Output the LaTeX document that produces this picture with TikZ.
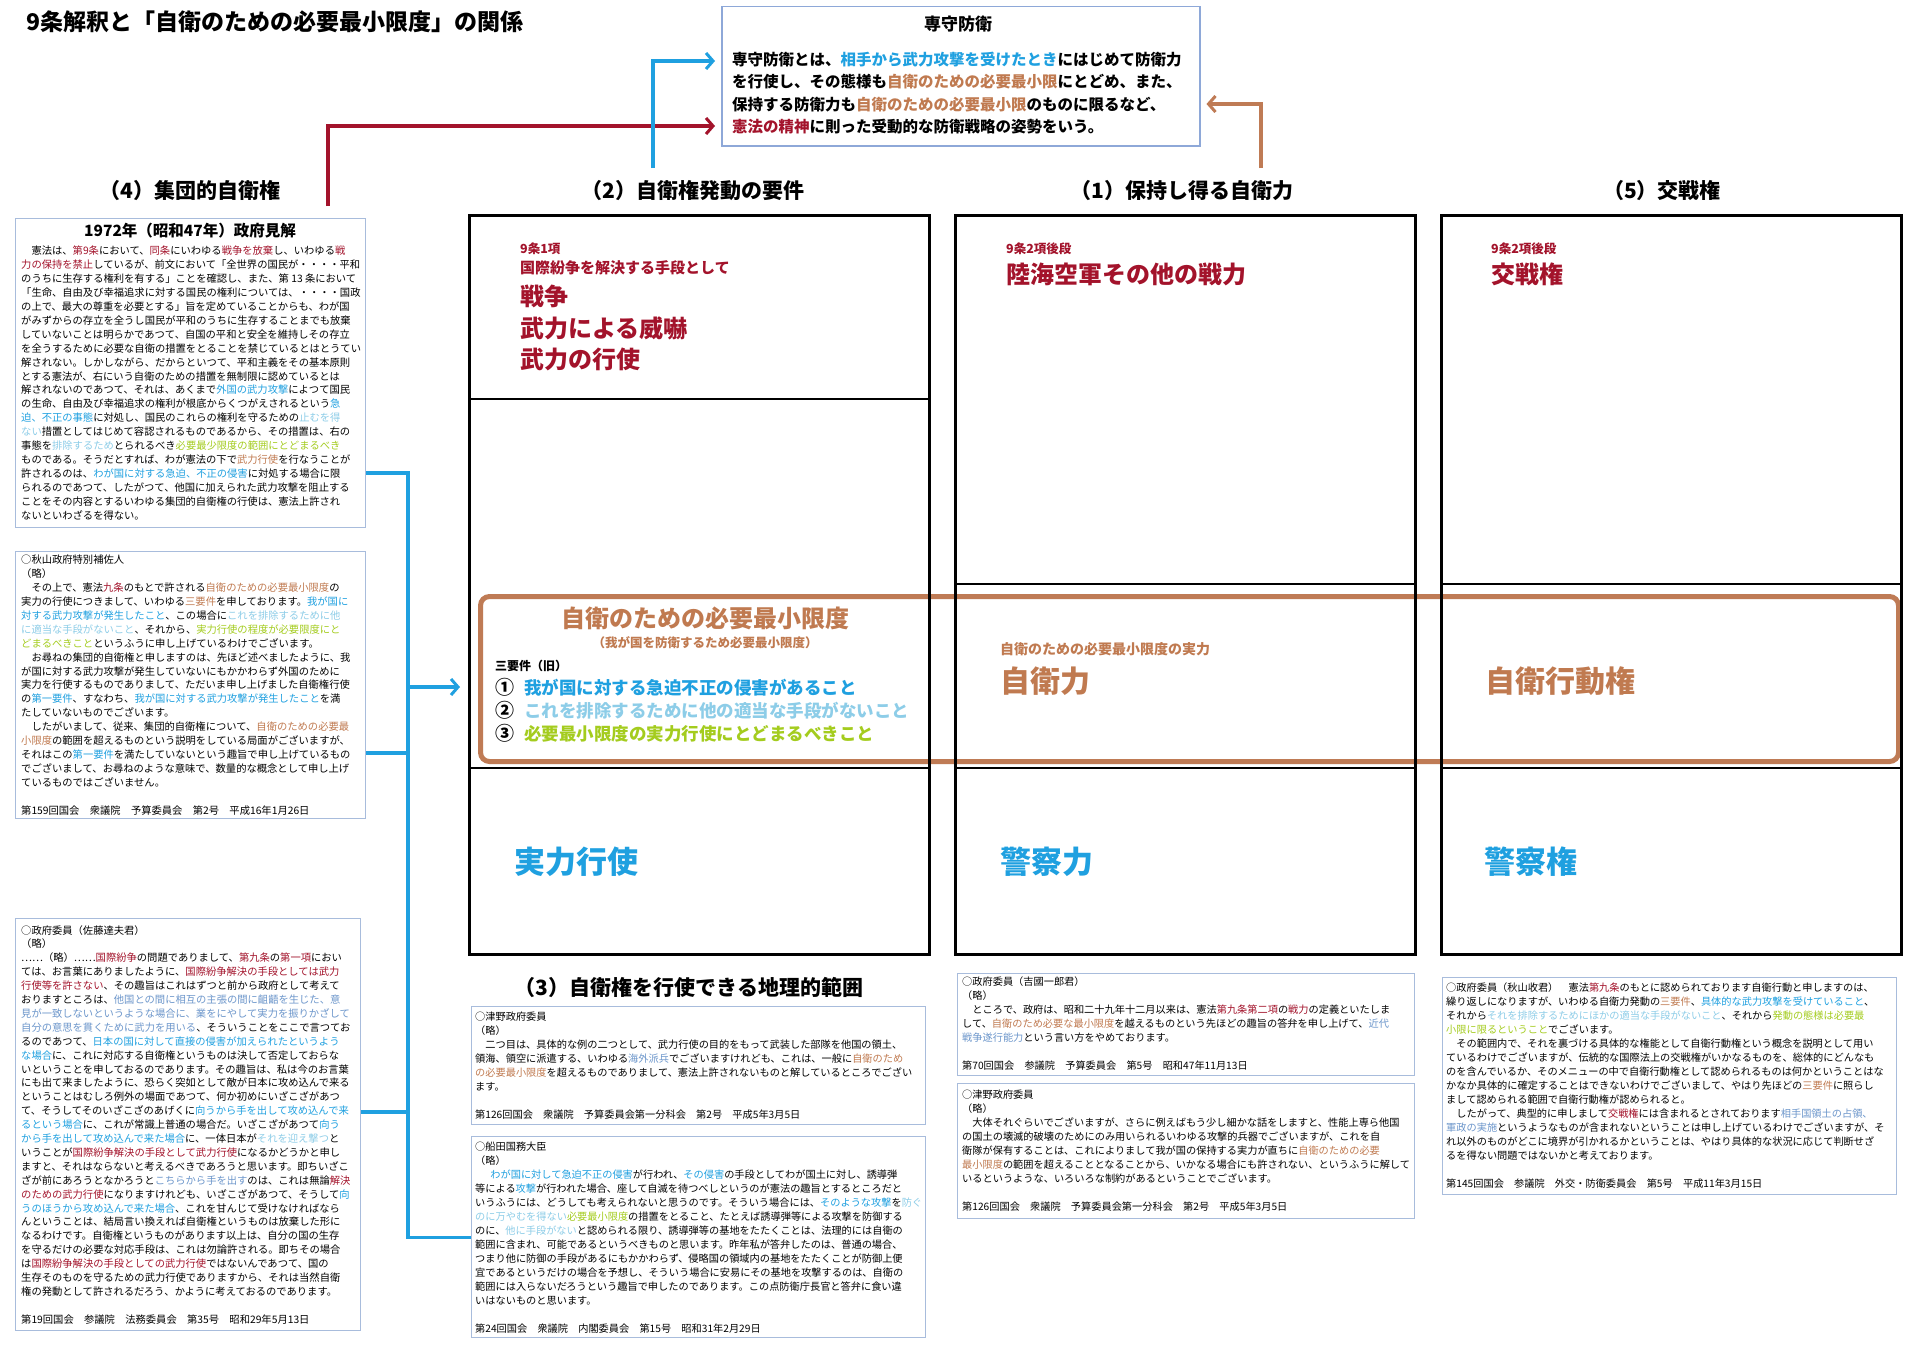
\documentclass[tikz,border=0pt]{standalone}
\usepackage{fontspec}
\setmainfont{Noto Sans CJK JP}
\usetikzlibrary{arrows.meta}
\definecolor{dred}{HTML}{A3132B}
\definecolor{brn}{HTML}{C07A50}
\definecolor{blu}{HTML}{1FA0E0}
\definecolor{lblu}{HTML}{8DCDE8}
\definecolor{ygrn}{HTML}{A4CC1E}
\definecolor{sblu}{HTML}{6C96CB}
\definecolor{boxc}{HTML}{A8BCDC}
\definecolor{topc}{HTML}{8EA8D8}
\definecolor{obrn}{HTML}{BF7B55}
\newcommand{\kR}[1]{\textcolor{dred}{#1}}
\newcommand{\kN}[1]{\textcolor{brn}{#1}}
\newcommand{\kB}[1]{\textcolor{blu}{#1}}
\newcommand{\kL}[1]{\textcolor{lblu}{#1}}
\newcommand{\kG}[1]{\textcolor{ygrn}{#1}}
\newcommand{\kS}[1]{\textcolor{sblu}{#1}}
\tikzset{
  lbox/.style={draw=boxc, line width=1.3pt, anchor=north west, inner sep=0pt},
  btxt/.style={anchor=north west, align=left, inner sep=0pt, font=\fontsize{10.2}{13.95}\selectfont},
  ltxt/.style={anchor=north west, align=left, inner sep=0pt, font=\fontsize{10.3}{13.9}\selectfont},
  hd/.style={inner sep=0pt, font=\fontsize{21}{25}\selectfont\bfseries},
  colbox/.style={draw=black, line width=2.5pt, anchor=north west, inner sep=0pt, minimum width=460pt, minimum height=739pt},
  colline/.style={draw=black, line width=2.2pt},
  lab/.style={anchor=west, inner sep=0pt},
  small/.style={lab, font=\fontsize{12.5}{15}\selectfont\bfseries, text=dred},
  big/.style={lab, font=\fontsize{24}{28}\selectfont\bfseries, text=dred},
  huge/.style={lab, font=\fontsize{31}{36}\selectfont\bfseries},
  conn/.style={draw=blu, line width=3.2pt},
  tiparrow/.style={-{Straight Barb[length=7pt,width=16pt,line width=3pt]}, line width=3.2pt},
}
\begin{document}
\begin{tikzpicture}[x=1pt,y=-1pt]
\useasboundingbox[fill=white] (0,0) rectangle (1920,1346);

% title
\node[lab, font=\fontsize{23}{27}\selectfont\bfseries] (title) at (26,22) {9条解釈と「自衛のための必要最小限度」の関係};

% top box
\node[draw=topc, line width=1.5pt, anchor=north west, inner sep=0pt, minimum width=478pt, minimum height=139pt] (sbox) at (721,6) {};
\node[inner sep=0pt, font=\fontsize{17}{20}\selectfont\bfseries] (stitle) at (958,24) {専守防衛};
\node[anchor=north west, align=left, inner sep=0pt, font=\fontsize{15.5}{22.4}\selectfont\bfseries] (sbody) at (732,52) {専守防衛とは、\kB{相手から武力攻撃を受けたとき}にはじめて防衛力\\
を行使し、その態様も\kN{自衛のための必要最小限}にとどめ、また、\\
保持する防衛力も\kN{自衛のための必要最小限}のものに限るなど、\\
\kR{憲法の精神}に則った受動的な防衛戦略の姿勢をいう。};

% headings
\node[hd] (h4) at (190,191) {（4）集団的自衛権};
\node[hd] (h2) at (693,191) {（2）自衛権発動の要件};
\node[hd] (h1) at (1182,191) {（1）保持し得る自衛力};
\node[hd] (h5) at (1662,191) {（5）交戦権};
\node[hd] (h3) at (689,987) {（3）自衛権を行使できる地理的範囲};

% top arrows
\coordinate (r0) at (328,206);
\coordinate (b0) at (653,168);
\coordinate (n0) at (1261,168);
\draw[tiparrow, draw=dred, shorten >=6pt] (r0) |- (sbox.west |- 0,126);
\draw[tiparrow, draw=blu, shorten >=6pt] (b0) |- (sbox.west |- 0,61);
\draw[tiparrow, draw=obrn, shorten >=6pt] (n0) |- (sbox.east |- 0,104);

% orange box
\node[draw=obrn, line width=5pt, rounded corners=9pt, anchor=north west, inner sep=0pt, minimum width=1418pt, minimum height=165pt] (obox) at (478,594) {};

% columns
\node[colbox] (c2) at (468,214) {};
\node[colbox] (c1) at (954,214) {};
\node[colbox] (c5) at (1440,214) {};
\draw[colline] (c2.west |- 0,399) -- (c2.east |- 0,399);
\draw[colline] (c2.west |- 0,768) -- (c2.east |- 0,768);
\draw[colline] (c1.west |- 0,584) -- (c1.east |- 0,584);
\draw[colline] (c1.west |- 0,768) -- (c1.east |- 0,768);
\draw[colline] (c5.west |- 0,584) -- (c5.east |- 0,584);
\draw[colline] (c5.west |- 0,768) -- (c5.east |- 0,768);

% column (2) texts
\node[small] (a1) at (520,249) {9条1項};
\node[lab, font=\fontsize{15}{18}\selectfont\bfseries, text=dred] (a2) at (520,268) {国際紛争を解決する手段として};
\node[big] (a3) at (520,296) {戦争};
\node[big] (a4) at (520,328) {武力による威嚇};
\node[big] (a5) at (520,359) {武力の行使};
% column (1)
\node[small] (d1) at (1006,249) {9条2項後段};
\node[big] (d2) at (1006,274) {陸海空軍その他の戦力};
% column (5)
\node[small] (e1) at (1491,249) {9条2項後段};
\node[big] (e2) at (1491,274) {交戦権};

% orange box contents
\node[inner sep=0pt, font=\fontsize{24}{28}\selectfont\bfseries, text=brn] (o1) at (705,618) {自衛のための必要最小限度};
\node[inner sep=0pt, font=\fontsize{12.5}{15}\selectfont\bfseries, text=brn] (o2) at (705,643) {（我が国を防衛するため必要最小限度）};
\node[lab, font=\fontsize{12}{14}\selectfont\bfseries] (o3) at (495,666) {三要件（旧）};
\node[lab, font=\fontsize{17.5}{21}\selectfont\bfseries] (o4) at (495,687) {\makebox[29pt][l]{\fontsize{19}{21}\selectfont①}\kB{我が国に対する急迫不正の侵害があること}};
\node[lab, font=\fontsize{17.5}{21}\selectfont\bfseries] (o5) at (495,710) {\makebox[29pt][l]{\fontsize{19}{21}\selectfont②}\kL{これを排除するために他の適当な手段がないこと}};
\node[lab, font=\fontsize{17.5}{21}\selectfont\bfseries] (o6) at (495,733) {\makebox[29pt][l]{\fontsize{19}{21}\selectfont③}\kG{必要最小限度の実力行使にとどまるべきこと}};
\node[lab, font=\fontsize{14}{17}\selectfont\bfseries, text=brn] (o7) at (1000,649) {自衛のための必要最小限度の実力};
\node[lab, font=\fontsize{30}{35}\selectfont\bfseries, text=brn] (o8) at (1000,681) {自衛力};
\node[lab, font=\fontsize{30}{35}\selectfont\bfseries, text=brn] (o9) at (1485,681) {自衛行動権};

% bottom row
\node[huge, text=blu] (f1) at (514,862) {実力行使};
\node[huge, text=blu] (f2) at (1000,862) {警察力};
\node[huge, text=blu] (f3) at (1484,862) {警察権};

% left boxes
\node[lbox, minimum width=350pt, minimum height=309pt] (b1972) at (15,218) {};
\node[inner sep=0pt, font=\fontsize{15.5}{18}\selectfont\bfseries] (t1972) at (190,231) {1972年（昭和47年）政府見解};
\node[ltxt] (x1972) at (21,246) {　憲法は、\kR{第9条}において、\kR{同条}にいわゆる\kR{戦争を放棄}し、いわゆる\kR{戦}\\
\kR{力の保持を禁止}しているが、前文において「全世界の国民が・・・・平和\\
のうちに生存する権利を有する」ことを確認し、また、第 13 条において\\
「生命、自由及び幸福追求に対する国民の権利については、・・・・国政\\
の上で、最大の尊重を必要とする」旨を定めていることからも、わが国\\
がみずからの存立を全うし国民が平和のうちに生存することまでも放棄\\
していないことは明らかであつて、自国の平和と安全を維持しその存立\\
を全うするために必要な自衛の措置をとることを禁じているとはとうてい\\
解されない。しかしながら、だからといつて、平和主義をその基本原則\\
とする憲法が、右にいう自衛のための措置を無制限に認めているとは\\
解されないのであつて、それは、あくまで\kB{外国の武力攻撃}によつて国民\\
の生命、自由及び幸福追求の権利が根底からくつがえされるという\kB{急}\\
\kB{迫、不正の事態}に対処し、国民のこれらの権利を守るための\kL{止むを得}\\
\kL{ない}措置としてはじめて容認されるものであるから、その措置は、右の\\
事態を\kL{排除するため}とられるべき\kG{必要最少限度の範囲にとどまるべき}\\
ものである。そうだとすれば、わが憲法の下で\kN{武力行使}を行なうことが\\
許されるのは、\kB{わが国に対する急迫、不正の侵害}に対処する場合に限\\
られるのであつて、したがつて、他国に加えられた武力攻撃を阻止する\\
ことをその内容とするいわゆる集団的自衛権の行使は、憲法上許され\\
ないといわざるを得ない。};

\node[lbox, minimum width=350pt, minimum height=267pt] (bAki) at (15,551) {};
\node[ltxt] (xAki) at (21,555) {○秋山政府特別補佐人\\
（略）\\
　その上で、憲法\kR{九条}のもとで許される\kN{自衛のための必要最小限度}の\\
実力の行使につきまして、いわゆる\kN{三要件}を申しております。\kB{我が国に}\\
\kB{対する武力攻撃が発生したこと}、この場合に\kL{これを排除するために他}\\
\kL{に適当な手段がないこと}、それから、\kG{実力行使の程度が必要限度にと}\\
\kG{どまるべきこと}というふうに申し上げているわけでございます。\\
　お尋ねの集団的自衛権と申しますのは、先ほど述べましたように、我\\
が国に対する武力攻撃が発生していないにもかかわらず外国のために\\
実力を行使するものでありまして、ただいま申し上げました自衛権行使\\
の\kB{第一要件}、すなわち、\kB{我が国に対する武力攻撃が発生したこと}を満\\
たしていないものでございます。\\
　したがいまして、従来、集団的自衛権について、\kN{自衛のための必要最}\\
\kN{小限度}の範囲を超えるものという説明をしている局面がございますが、\\
それはこの\kB{第一要件}を満たしていないという趣旨で申し上げているもの\\
でございまして、お尋ねのような意味で、数量的な概念として申し上げ\\
ているものではございません。\\[13.9pt]
第159回国会　衆議院　予算委員会　第2号　平成16年1月26日};

\node[lbox, minimum width=345pt, minimum height=412pt] (bSato) at (15,918) {};
\node[ltxt] (xSato) at (21,925) {○政府委員（佐藤達夫君）\\
（略）\\
……（略）……\kR{国際紛争}の問題でありまして、\kR{第九条}の\kR{第一項}におい\\
ては、お言葉にありましたように、\kR{国際紛争解決の手段としては武力}\\
\kR{行使等を許さない}、その趣旨はこれはずつと前から政府として考えて\\
おりますところは、\kS{他国との間に相互の主張の間に齟齬を生じた、意}\\
\kS{見が一致しないというような場合に、業をにやして実力を振りかざして}\\
\kS{自分の意思を貫くために武力を用いる}、そういうことをここで言つてお\\
るのであつて、\kB{日本の国に対して直接の侵害が加えられたというよう}\\
\kB{な場合}に、これに対応する自衛権というものは決して否定しておらな\\
いということを申しておるのであります。その趣旨は、私は今のお言葉\\
にも出て来ましたように、恐らく突如として敵が日本に攻め込んで来る\\
ということはむしろ例外の場面であつて、何か初めにいざこざがあつ\\
て、そうしてそのいざこざのあげくに\kB{向うから手を出して攻め込んで来}\\
\kB{るという場合}に、これが常識上普通の場合だ。いざこざがあつて\kB{向う}\\
\kB{から手を出して攻め込んで来た場合}に、一体日本が\kL{それを迎え撃つ}と\\
いうことが\kR{国際紛争解決の手段として武力行使}になるかどうかと申し\\
ますと、それはならないと考えるべきであろうと思います。即ちいざこ\\
ざが前にあろうとなかろうと\kS{こちらから手を出す}のは、これは無論\kR{解決}\\
\kR{のための武力行使}になりますけれども、いざこざがあつて、そうして\kB{向}\\
\kB{うのほうから攻め込んで来た場合}、これを甘んじて受けなければなら\\
んということは、結局言い換えれば自衛権というものは放棄した形に\\
なるわけです。自衛権というものがあります以上は、自分の国の生存\\
を守るだけの必要な対応手段は、これは勿論許される。即ちその場合\\
は\kR{国際紛争解決の手段としての武力行使}ではないんであつて、国の\\
生存そのものを守るための武力行使でありますから、それは当然自衛\\
権の発動として許されるだろう、かように考えておるのであります。\\[13.9pt]
第19回国会　参議院　法務委員会　第35号　昭和29年5月13日};

% (3) boxes
\node[lbox, minimum width=454pt, minimum height=118pt] (bTsu3) at (471,1006) {};
\node[btxt] (xTsu3) at (475,1012) {○津野政府委員\\
（略）\\
　二つ目は、具体的な例の二つとして、武力行使の目的をもって武装した部隊を他国の領土、\\
領海、領空に派遣する、いわゆる\kS{海外派兵}でございますけれども、これは、一般に\kN{自衛のため}\\
\kN{の必要最小限度}を超えるものでありまして、憲法上許されないものと解しているところでござい\\
ます。\\[13.95pt]
第126回国会　衆議院　予算委員会第一分科会　第2号　平成5年3月5日};

\node[lbox, minimum width=454pt, minimum height=201pt] (bFuna) at (471,1136) {};
\node[btxt] (xFuna) at (475,1142) {○船田国務大臣\\
（略）\\
　\hspace{5pt}\kB{わが国に対して急迫不正の侵害}が行われ、\kB{その侵害}の手段としてわが国土に対し、誘導弾\\
等による\kB{攻撃}が行われた場合、座して自滅を待つべしというのが憲法の趣旨とするところだと\\
いうふうには、どうしても考えられないと思うのです。そういう場合には、\kB{そのような攻撃}を\kL{防ぐ}\\
\kL{のに万やむを得ない}\kG{必要最小限度}の措置をとること、たとえば誘導弾等による攻撃を防御する\\
のに、\kL{他に手段がない}と認められる限り、誘導弾等の基地をたたくことは、法理的には自衛の\\
範囲に含まれ、可能であるというべきものと思います。昨年私が答弁したのは、普通の場合、\\
つまり他に防御の手段があるにもかかわらず、侵略国の領域内の基地をたたくことが防御上便\\
宜であるというだけの場合を予想し、そういう場合に安易にその基地を攻撃するのは、自衛の\\
範囲には入らないだろうという趣旨で申したのであります。この点防衛庁長官と答弁に食い違\\
いはないものと思います。\\[13.95pt]
第24回国会　衆議院　内閣委員会　第15号　昭和31年2月29日};

% (1) boxes
\node[lbox, minimum width=457pt, minimum height=102pt] (bYosh) at (957,973) {};
\node[btxt] (xYosh) at (962,977) {○政府委員（吉國一郎君）\\
（略）\\
　ところで、政府は、昭和二十九年十二月以来は、憲法\kR{第九条第二項}の\kR{戦力}の定義といたしま\\
して、\kN{自衛のため必要な最小限度}を越えるものという先ほどの趣旨の答弁を申し上げて、\kS{近代}\\
\kS{戦争遂行能力}という言い方をやめております。\\[13.95pt]
第70回国会　参議院　予算委員会　第5号　昭和47年11月13日};

\node[lbox, minimum width=457pt, minimum height=135pt] (bTsu2) at (957,1083) {};
\node[btxt] (xTsu2) at (962,1090) {○津野政府委員\\
（略）\\
　大体それぐらいでございますが、さらに例えばもう少し細かな話をしますと、性能上専ら他国\\
の国土の壊滅的破壊のためにのみ用いられるいわゆる攻撃的兵器でございますが、これを自\\
衛隊が保有することは、これによりまして我が国の保持する実力が直ちに\kN{自衛のための必要}\\
\kN{最小限度}の範囲を超えることとなることから、いかなる場合にも許されない、というふうに解して\\
いるというような、いろいろな制約があるということでございます。\\[13.95pt]
第126回国会　衆議院　予算委員会第一分科会　第2号　平成5年3月5日};

% (5) box
\node[lbox, minimum width=454pt, minimum height=217pt] (bAkiR) at (1442,977) {};
\node[btxt] (xAkiR) at (1446,983) {○政府委員（秋山收君）　憲法\kR{第九条}のもとに認められております自衛行動と申しますのは、\\
繰り返しになりますが、いわゆる自衛力発動の\kN{三要件}、\kB{具体的な武力攻撃を受けていること}、\\
それから\kL{それを排除するためにほかの適当な手段がないこと}、それから\kG{発動の態様は必要最}\\
\kG{小限に限るということ}でございます。\\
　その範囲内で、それを裏づける具体的な権能として自衛行動権という概念を説明として用い\\
ているわけでございますが、伝統的な国際法上の交戦権がいかなるものを、総体的にどんなも\\
のを含んでいるか、そのメニューの中で自衛行動権として認められるものは何かということはな\\
かなか具体的に確定することはできないわけでございまして、やはり先ほどの\kN{三要件}に照らし\\
まして認められる範囲で自衛行動権が認められると。\\
　したがって、典型的に申しまして\kR{交戦権}には含まれるとされております\kS{相手国領土の占領、}\\
\kS{軍政の実施}というようなものが含まれないということは申し上げているわけでございますが、そ\\
れ以外のものがどこに境界が引かれるかということは、やはり具体的な状況に応じて判断せざ\\
るを得ない問題ではないかと考えております。\\[13.95pt]
第145回国会　参議院　外交・防衛委員会　第5号　平成11年3月15日};

% bracket connectors
\coordinate (brk) at (408,687);
\draw[conn] (b1972.east |- 0,473) -| (brk |- bFuna.west) -- (bFuna.west);
\draw[conn] (bAki.east |- 0,753) -- (brk |- 0,753);
\draw[conn] (bSato.east |- 0,1112) -- (brk |- 0,1112);
\draw[tiparrow, draw=blu, shorten >=8pt] (brk) -- (c2.west |- brk);
\end{tikzpicture}
\end{document}
